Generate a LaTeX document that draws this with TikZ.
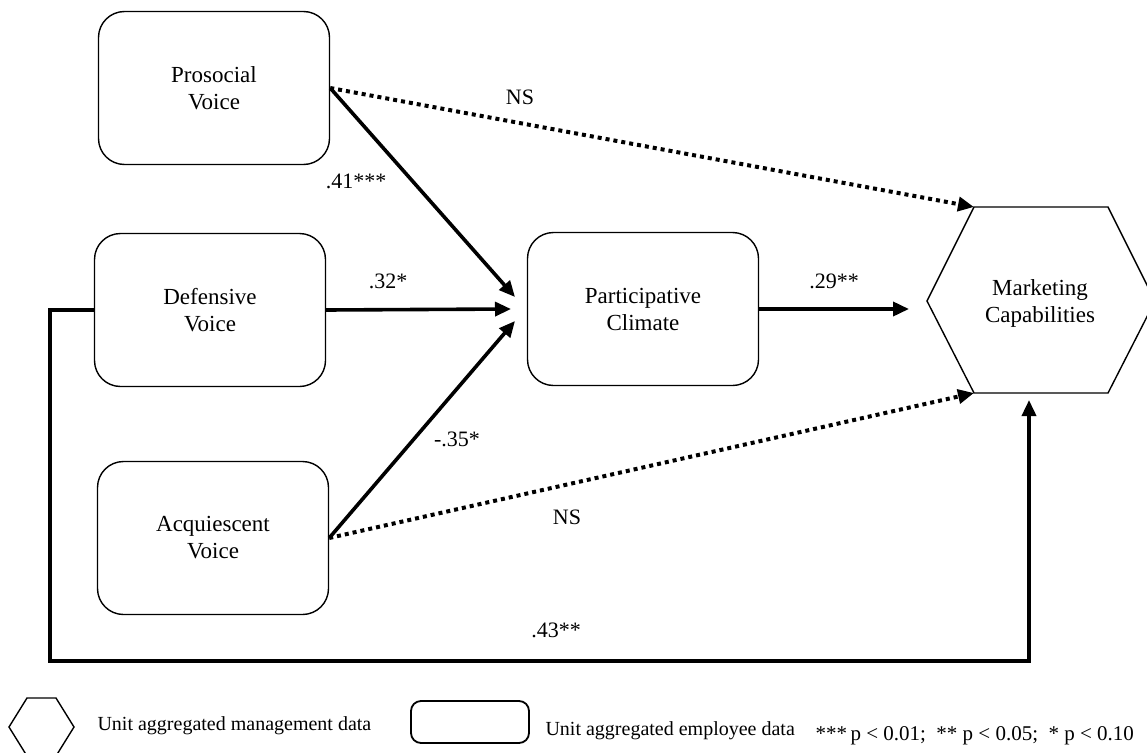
\documentclass[tikz,border=0pt]{standalone}
\usepackage{fontspec}
\setmainfont{Liberation Serif}
\usetikzlibrary{arrows.meta,positioning,calc}

\tikzset{
  voicebox/.style={draw, rounded corners=26pt, line width=1.4pt, minimum width=231pt,
    minimum height=153pt, align=center, font=\fontsize{23}{27}\selectfont},
  solidpath/.style={line width=3.6pt, -{Triangle[length=16pt,width=14pt]}},
  dotpath/.style={line width=4pt, dash pattern=on 4pt off 4pt, -{Triangle[length=16pt,width=14pt]}},
  coef/.style={font=\fontsize{22}{25}\selectfont},
  legtext/.style={font=\fontsize{20}{24}\selectfont, anchor=west},
}

\begin{document}
\begin{tikzpicture}[x=1pt, y=-1pt]
        \useasboundingbox (0,0) rectangle (1147,752);

        % Voice boxes and climate
        \node[voicebox] (ps) at (214,88) {Prosocial\\Voice};
        \node[voicebox] (dv) at (210,310) {Defensive\\Voice};
        \node[voicebox] (av) at (213,538) {Acquiescent\\Voice};
        \node[voicebox] (pc) at (643,309) {Participative\\Climate};

        % Hexagon for marketing capabilities
        \coordinate (hl) at (927,301);
        \coordinate (htl) at (974,207);
        \coordinate (htr) at (1108,207);
        \coordinate (hr) at (1155,301);
        \coordinate (hbr) at (1108,393);
        \coordinate (hbl) at (974,393);
        \draw[line width=1.4pt] (hl) -- (htl) -- (htr) -- (hr) -- (hbr) -- (hbl) -- cycle;
        \node[align=center, font=\fontsize{23}{27}\selectfont] (mc) at (1040,303) {Marketing\\Capabilities};

        % Arrow ends in front of the climate box
        \coordinate (in1) at (515,297);
        \coordinate (in2) at (511,309);
        \coordinate (in3) at (515,321);
        \coordinate (mcin) at (1029,400);
        \coordinate (bl) at (50,661);

        % Paths
        \draw[solidpath] (ps.east) -- (in1);
        \draw[solidpath] (dv.east) -- (in2);
        \draw[solidpath] (av.east) -- (in3);
        \draw[solidpath, shorten >=18pt] (pc.east) -- (pc.east -| hl);
        \draw[dotpath] (ps.east) -- (htl);
        \draw[dotpath] (av.east) -- (hbl);
        \draw[solidpath] (dv.west) -| (bl) -| (mcin);

        % Path coefficients
        \node[coef] (ns1) at (520,97) {NS};
        \node[coef] (c41) at (356,181) {.41***};
        \node[coef] (c32) at (388,281) {.32*};
        \node[coef] (c29) at (834,281) {.29**};
        \node[coef] (c35) at (457,439) {-.35*};
        \node[coef] (ns2) at (567,517) {NS};
        \node[coef] (c43) at (556,630) {.43**};

        % Legend
        \draw[line width=1.4pt] (9,727) -- (27,698) -- (56,698) -- (74,727) -- (56,756) -- (27,756) -- cycle;
        \node[legtext] (lg1) at (94,726) {Unit aggregated management data};
        \node[draw, rounded corners=10pt, line width=1.8pt, minimum width=118pt, minimum height=42pt] (lg2) at (470,722) {};
        \node[legtext] (lg3) at (542,731) {Unit aggregated employee data};
        \node[legtext, font=\fontsize{21}{24}\selectfont] (lg4) at (812,736) {***\,p < 0.01;\ \ ** p < 0.05;\ \ * p < 0.10};
    \end{tikzpicture}
\end{document}
